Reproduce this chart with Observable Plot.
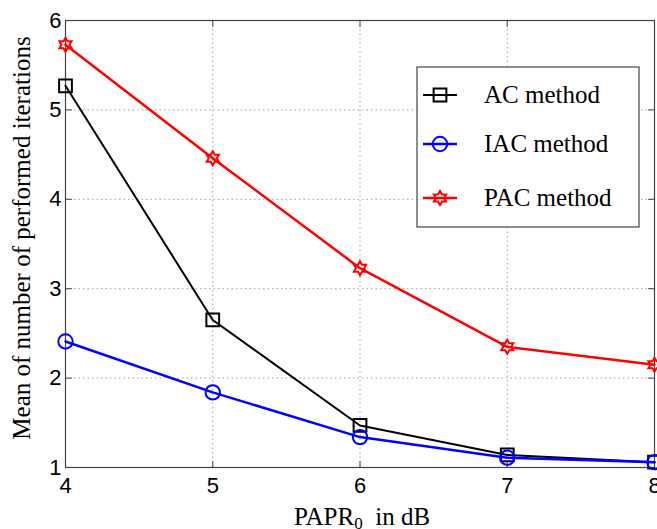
<!DOCTYPE html>
<html>
<head>
<meta charset="utf-8">
<script src="https://cdn.jsdelivr.net/npm/d3@7"></script>
<script src="https://cdn.jsdelivr.net/npm/@observablehq/plot@0.6"></script>
<style>
  html, body { margin: 0; padding: 0; background: #fff; }
  #wrap { position: relative; width: 657px; height: 529px; }
  #wrap svg { position: absolute; left: 0; top: 0; }
</style>
</head>
<body>
<div id="wrap"></div>
<script>
// ---- data ----
const papr = [4, 5, 6, 7, 8];
const acValues  = [5.27, 2.65, 1.47, 1.14, 1.06];
const iacValues = [2.41, 1.84, 1.34, 1.11, 1.06];
const pacValues = [5.73, 4.46, 3.23, 2.35, 2.15];
const seriesNames = ["AC method", "IAC method", "PAC method"];
const xTicks = [4, 5, 6, 7, 8];
const yTicks = [1, 2, 3, 4, 5, 6];
const xLabel = "PAPR";
const xLabelSub = "0";
const xLabelRest = "  in dB";
const yLabel = "Mean of number of performed iterations";

// ---- styles ----
const colors = {"AC method": "#000000", "IAC method": "#0000ff", "PAC method": "#ff0000"};
const widths = {"AC method": 2, "IAC method": 2.5, "PAC method": 2.5};

// hexagram symbol (six-pointed star outline)
const hexagram = {
  draw(context, size) {
    const R = Math.sqrt(size / Math.PI) * 1.0;
    const r = R / Math.sqrt(3);
    for (let i = 0; i < 12; i++) {
      const a = -Math.PI / 2 + i * Math.PI / 6;
      const rr = i % 2 === 0 ? R : r;
      const x = rr * Math.cos(a), y = rr * Math.sin(a);
      if (i === 0) context.moveTo(x, y); else context.lineTo(x, y);
    }
    context.closePath();
  }
};
const symbols = {"AC method": "square", "IAC method": "circle", "PAC method": hexagram};
const radii = {"AC method": 7.2, "IAC method": 7.2, "PAC method": 7};

const tickShape = { draw(context, l) { context.moveTo(0, 0); context.lineTo(0, -l); } };

const rows = [];
[acValues, iacValues, pacValues].forEach((vals, si) => {
  vals.forEach((v, i) => rows.push({series: seriesNames[si], x: papr[i], y: v}));
});

const marks = [
  Plot.gridX(xTicks, {stroke: "#a0a0a0", strokeOpacity: 1, strokeDasharray: "1.5,3", strokeWidth: 1}),
  Plot.gridY(yTicks, {stroke: "#a0a0a0", strokeOpacity: 1, strokeDasharray: "1.5,3", strokeWidth: 1}),
  // inward tick marks
  Plot.vector(yTicks, {x: () => 4, y: d => d, length: 6, rotate: 90, anchor: "start", shape: tickShape, stroke: "#444", strokeWidth: 1}),
  Plot.vector(yTicks, {x: () => 8, y: d => d, length: 6, rotate: -90, anchor: "start", shape: tickShape, stroke: "#444", strokeWidth: 1}),
  Plot.vector(xTicks, {x: d => d, y: () => 1, length: 6, rotate: 0, anchor: "start", shape: tickShape, stroke: "#444", strokeWidth: 1}),
  Plot.vector(xTicks, {x: d => d, y: () => 6, length: 6, rotate: 180, anchor: "start", shape: tickShape, stroke: "#444", strokeWidth: 1}),
  Plot.frame({stroke: "#444", strokeWidth: 1.2}),
  Plot.axisX(xTicks, {tickSize: 0, tickPadding: 10, tickFormat: "d", fontSize: 22, fontFamily: "Liberation Sans", fill: "#000", label: null}),
  Plot.axisY(yTicks, {tickSize: 0, tickPadding: 4, tickFormat: "d", fontSize: 22, fontFamily: "Liberation Sans", fill: "#000", label: null})
];
for (const s of seriesNames) {
  const data = rows.filter(d => d.series === s);
  marks.push(Plot.line(data, {x: "x", y: "y", stroke: colors[s], strokeWidth: widths[s]}));
  marks.push(Plot.dot(data, {x: "x", y: "y", stroke: colors[s], strokeWidth: 2, fill: "none", symbol: () => symbols[s], r: radii[s]}));
}

const chart = Plot.plot({
  width: 657,
  height: 529,
  marginLeft: 65,
  marginRight: 3,
  marginTop: 20,
  marginBottom: 62,
  style: {background: "#fff", overflow: "visible"},
  x: {domain: [4, 8], axis: null},
  y: {domain: [1, 6], axis: null},
  symbol: {type: "identity"},
  marks
});
document.getElementById("wrap").appendChild(chart);

// axis titles
const svg = d3.select(chart);
const xt = svg.append("text")
  .attr("x", 362).attr("y", 525)
  .attr("text-anchor", "middle")
  .attr("font-family", "Liberation Serif").attr("font-size", 25).attr("fill", "#000")
  .attr("xml:space", "preserve").style("white-space", "pre");
xt.append("tspan").text(xLabel);
xt.append("tspan").attr("font-size", 17).attr("dy", 4).text(xLabelSub);
xt.append("tspan").attr("dy", -4).text(xLabelRest);

svg.append("text")
  .attr("transform", "translate(30,238) rotate(-90)")
  .attr("text-anchor", "middle")
  .attr("font-family", "Liberation Serif").attr("font-size", 25).attr("fill", "#000")
  .text(yLabel);

// legend overlay
const lg = d3.select("#wrap").append("svg")
  .attr("width", 657).attr("height", 529)
  .style("pointer-events", "none");
lg.append("rect").attr("x", 417).attr("y", 67).attr("width", 222).attr("height", 160)
  .attr("fill", "#fff").attr("stroke", "#444").attr("stroke-width", 1.2);
const rowY = [95, 144, 198];
seriesNames.forEach((s, i) => {
  const y = rowY[i];
  lg.append("line").attr("x1", 423).attr("x2", 457).attr("y1", y).attr("y2", y)
    .attr("stroke", colors[s]).attr("stroke-width", widths[s]);
  const sym = s === "PAC method" ? hexagram : (s === "AC method" ? d3.symbolSquare : d3.symbolCircle);
  lg.append("path").attr("d", d3.symbol(sym, Math.PI * radii[s] * radii[s])())
    .attr("transform", `translate(440,${y})`)
    .attr("fill", "none").attr("stroke", colors[s]).attr("stroke-width", 2);
  lg.append("text").attr("x", 484).attr("y", y + 8)
    .attr("font-family", "Liberation Serif").attr("font-size", 25).attr("fill", "#000")
    .text(s);
});
</script>
</body>
</html>
